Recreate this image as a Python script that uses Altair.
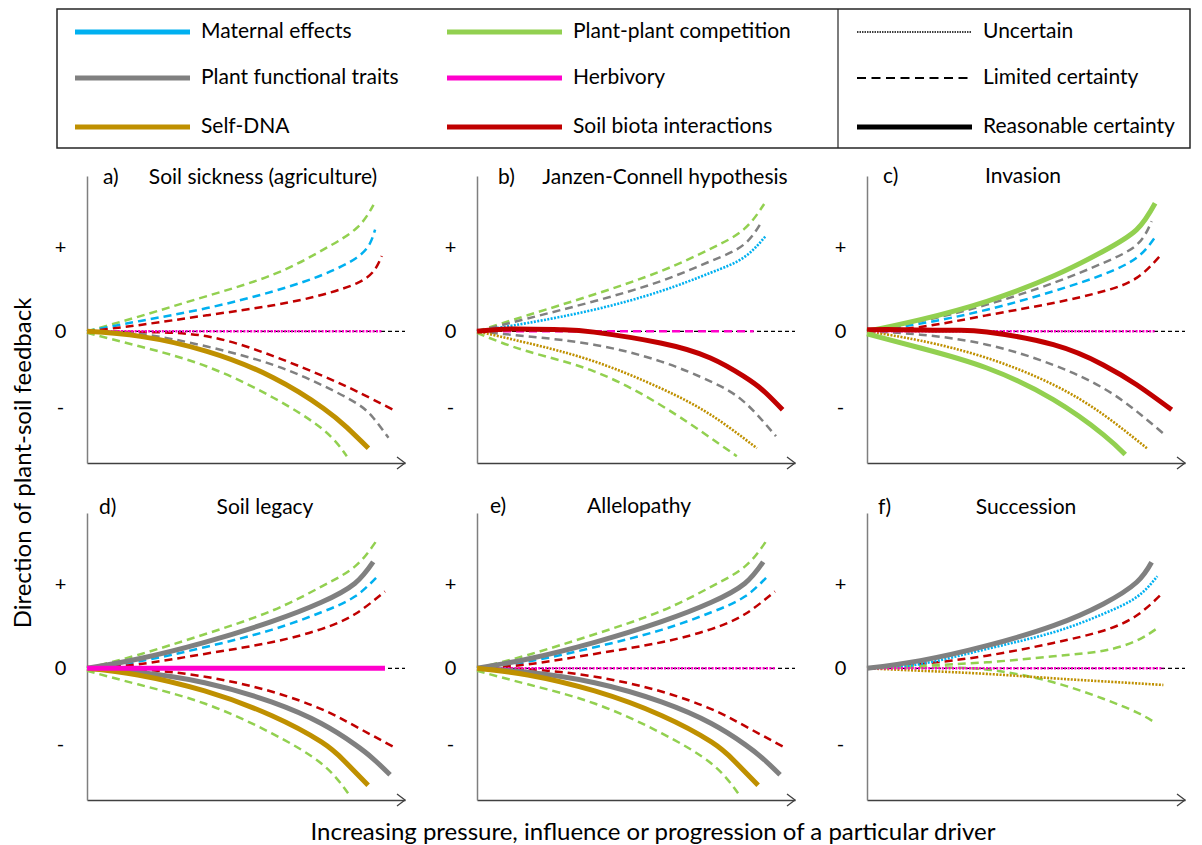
import altair as alt
import pandas as pd

FONT = "Lato"

# ---------------- categories / labels ----------------
DRIVERS = ["Maternal effects", "Plant functional traits", "Self-DNA",
           "Plant-plant competition", "Herbivory", "Soil biota interactions"]
DRIVER_COLORS = ["#00B0F0", "#808080", "#BF9000", "#92D050", "#FF00CC", "#C00000"]
CERTAINTY = ["Uncertain", "Limited certainty", "Reasonable certainty"]

PANEL_LETTERS = ["a)", "b)", "c)", "d)", "e)", "f)"]
PANEL_TITLES = ["Soil sickness (agriculture)", "Janzen-Connell hypothesis", "Invasion",
                "Soil legacy", "Allelopathy", "Succession"]
Y_TICK_VALUES = [-9.5, 0, 10.5]
Y_TICK_TEXT = ["-", "0", "+"]
X_TITLE = "Increasing pressure, influence or progression of a particular driver"
Y_TITLE = "Direction of plant-soil feedback"

# conceptual axis extents
X_DOMAIN = [0, 100]
Y_DOMAIN = [-16.45, 19.4]

# ---------------- curves (x, y) ----------------
# a) Soil sickness
a_comp_up = [(0, 0), (16.8, 1.9), (37.7, 4.4), (58.6, 7.1), (74.3, 10.2), (84.8, 12.9), (90.1, 15.8)]
a_mat_up = [(0, 0), (16.8, 1.3), (37.7, 2.9), (58.6, 5.0), (74.3, 7.1), (84.8, 9.2), (89.0, 11.0), (90.6, 12.7)]
a_soil_up = [(0, 0), (16.8, 0.8), (37.7, 2.0), (58.6, 3.25), (74.3, 4.6), (84.8, 6.0), (90.1, 7.5), (92.7, 9.4)]
a_soil_dn = [(0, 0), (16.8, -0.1), (37.7, -0.63), (58.6, -3.1), (74.3, -5.6), (84.8, -7.5), (96.3, -9.8)]
a_traits_dn = [(0, 0), (16.8, -0.33), (37.7, -1.9), (58.6, -4.2), (74.3, -6.8), (84.8, -9.0), (90.0, -10.8), (94.8, -13.3)]
a_dna_dn = [(0, 0), (16.8, -0.63), (37.7, -2.5), (58.6, -5.8), (74.3, -9.6), (81.7, -12.0), (88.5, -14.6)]
a_comp_dn = [(0, -0.2), (16.8, -1.9), (37.7, -4.4), (58.6, -8.3), (74.3, -12.3), (81.7, -15.6)]
a_herb = [(0, 0), (92.7, 0)]

# b) Janzen-Connell hypothesis
b_comp_up = [(0, 0), (15.9, 2.0), (36.8, 4.6), (57.7, 7.5), (73.4, 10.3), (83.8, 12.7), (90.3, 15.9)]
b_traits_up = [(0, 0), (15.9, 1.6), (36.8, 3.75), (57.7, 6.25), (73.4, 8.75), (83.8, 10.8), (89.6, 13.75)]
b_mat_up = [(0, 0), (15.9, 1.04), (36.8, 2.7), (57.7, 5.0), (73.4, 7.3), (83.8, 9.2), (90.8, 11.9)]
b_soil = [(0, 0), (10.7, 0.3), (26.3, 0.2), (36.8, -0.1), (57.7, -1.46), (73.4, -3.33), (83.8, -5.6), (90.0, -7.4), (96.1, -9.8)]
b_herb = [(0, 0), (87.0, 0)]
b_traits_dn = [(0, 0), (15.9, -0.63), (36.8, -1.67), (57.7, -3.75), (73.4, -6.25), (83.8, -8.75), (94.0, -13.1)]
b_dna_dn = [(0, 0), (15.9, -1.46), (36.8, -3.75), (57.7, -7.1), (73.4, -10.4), (88.0, -14.6)]
b_comp_dn = [(0, -0.2), (15.9, -2.5), (36.8, -5.0), (57.7, -9.2), (73.4, -13.3), (81.7, -15.6)]

# c) Invasion
c_comp_up = [(0, 0), (16.8, 1.46), (37.7, 3.75), (58.6, 6.9), (74.3, 10.0), (84.8, 12.7), (90.6, 16.0)]
c_traits_up = [(0, 0), (16.8, 1.25), (37.7, 3.33), (58.6, 6.04), (74.3, 8.54), (84.8, 10.8), (89.5, 13.75)]
c_mat_up = [(0, 0), (16.8, 0.96), (37.7, 2.7), (58.6, 5.0), (74.3, 7.1), (84.8, 9.2), (90.6, 11.75)]
c_soil_up = [(0, 0), (16.8, 0.54), (37.7, 2.0), (58.6, 3.54), (74.3, 5.0), (84.8, 6.67), (92.7, 9.67)]
c_soil_dn = [(0, 0.2), (11.5, 0.2), (27.2, 0.12), (37.7, -0.08), (58.6, -1.67), (74.3, -4.2), (84.8, -6.67), (95.8, -9.8)]
c_traits_dn = [(0, 0), (16.8, -0.42), (37.7, -1.67), (58.6, -4.2), (74.3, -7.1), (84.8, -10.0), (94.2, -13.1)]
c_dna_dn = [(0, 0), (16.8, -1.17), (37.7, -3.33), (58.6, -6.67), (74.3, -10.4), (88.0, -14.6)]
c_comp_dn = [(0, -0.33), (16.8, -2.08), (37.7, -4.58), (58.6, -8.54), (74.3, -12.9), (81.2, -15.4)]
c_herb = [(0, 0), (90.6, 0)]

# d) Soil legacy  /  e) Allelopathy (same shapes)
d_comp_up = [(0, 0), (16.0, 1.67), (37.0, 4.25), (58.0, 7.17), (73.7, 10.2), (84.2, 12.7), (90.8, 15.8)]
d_traits_up = [(0, 0), (16.0, 1.17), (37.0, 3.25), (58.0, 5.83), (73.7, 8.25), (84.2, 10.6), (90.0, 13.3)]
d_mat_up = [(0, 0), (16.0, 0.83), (37.0, 2.63), (58.0, 4.8), (73.7, 7.0), (84.2, 8.96), (91.6, 11.6)]
d_soil_up = [(0, 0), (16.0, 0.5), (37.0, 1.8), (58.0, 3.25), (73.7, 4.9), (84.2, 6.75), (93.7, 9.6)]
d_soil_dn = [(0, 0), (16.0, -0.12), (37.0, -1.04), (58.0, -2.9), (73.7, -5.1), (84.2, -7.2), (96.8, -9.9)]
d_traits_dn = [(0, 0), (16.0, -0.5), (37.0, -1.8), (58.0, -4.2), (73.7, -6.9), (84.2, -9.5), (90.0, -11.3), (95.3, -13.3)]
d_dna_dn = [(0, 0), (16.0, -0.83), (37.0, -2.83), (58.0, -5.9), (73.7, -9.2), (81.0, -11.6), (88.4, -14.6)]
d_comp_dn = [(0, -0.3), (16.0, -2.0), (37.0, -4.4), (58.0, -8.1), (73.7, -11.9), (82.1, -15.6)]
d_herb = [(0, 0), (93.7, 0)]

# f) Succession
f_traits_up = [(0, 0), (16.8, 0.96), (37.7, 2.83), (58.6, 5.33), (74.3, 8.04), (84.8, 10.75), (89.5, 13.25)]
f_mat_up = [(0, 0), (16.8, 0.54), (37.7, 2.42), (58.6, 4.5), (74.3, 6.8), (84.8, 8.9), (91.3, 11.5)]
f_soil_up = [(0, 0), (16.8, 0.54), (37.7, 1.58), (58.6, 3.17), (74.3, 4.7), (84.8, 6.6), (93.2, 9.5)]
f_comp_up = [(0, 0), (16.8, 0.33), (37.7, 0.75), (58.6, 1.5), (74.3, 2.2), (84.8, 3.46), (91.6, 5.1)]
f_comp_dn = [(0, 0), (27.2, 0.08), (42.9, -0.42), (58.6, -1.75), (74.3, -3.8), (84.8, -5.5), (90.1, -6.67)]
f_dna_dn = [(0, 0), (16.8, -0.3), (37.7, -0.7), (58.6, -1.25), (74.3, -1.63), (93.2, -2.08)]
f_herb = [(0, 0), (93.2, 0)]

U, L, R = CERTAINTY
MAT, TRA, DNA, COM, HER, SOI = DRIVERS

PANEL_CURVES = [
    [(COM, L, a_comp_up), (MAT, L, a_mat_up), (SOI, L, a_soil_up), (SOI, L, a_soil_dn),
     (TRA, L, a_traits_dn), (DNA, R, a_dna_dn), (COM, L, a_comp_dn), (HER, U, a_herb)],
    [(COM, L, b_comp_up), (TRA, L, b_traits_up), (MAT, U, b_mat_up), (HER, L, b_herb),
     (SOI, R, b_soil), (TRA, L, b_traits_dn), (DNA, U, b_dna_dn), (COM, L, b_comp_dn)],
    [(COM, R, c_comp_up), (TRA, L, c_traits_up), (MAT, L, c_mat_up), (SOI, L, c_soil_up),
     (SOI, R, c_soil_dn), (TRA, L, c_traits_dn), (DNA, U, c_dna_dn), (COM, R, c_comp_dn), (HER, U, c_herb)],
    [(COM, L, d_comp_up), (TRA, R, d_traits_up), (MAT, L, d_mat_up), (SOI, L, d_soil_up),
     (SOI, L, d_soil_dn), (TRA, R, d_traits_dn), (DNA, R, d_dna_dn), (COM, L, d_comp_dn), (HER, R, d_herb)],
    [(COM, L, d_comp_up), (TRA, R, d_traits_up), (MAT, L, d_mat_up), (SOI, L, d_soil_up),
     (SOI, L, d_soil_dn), (TRA, R, d_traits_dn), (DNA, R, d_dna_dn), (COM, L, d_comp_dn), (HER, U, d_herb)],
    [(TRA, R, f_traits_up), (MAT, U, f_mat_up), (SOI, L, f_soil_up), (COM, L, f_comp_up),
     (COM, L, f_comp_dn), (DNA, U, f_dna_dn), (HER, U, f_herb)],
]

# ---------------- styles & layout ----------------
COLOR_OF = dict(zip(DRIVERS, DRIVER_COLORS))
LINE_STYLE = {
    L: dict(strokeWidth=2.5, strokeDash=[8, 5]),
    U: dict(strokeWidth=2.6, strokeDash=[2, 1.4]),
    R: dict(strokeWidth=5),
}
DRAW_ORDER = [L, U, R]
INTERPOLATION = "natural"
Y_AXIS_COLOR = "#7F7F7F"
X_AXIS_COLOR = "#404040"
PANEL_W, PANEL_H = 318, 287
COL_SPACING, ROW_SPACING = 72, 50
# (letter x, title centre x, y) relative to each panel's plot area
TITLE_POS = [(16, 176, 2), (21, 188, 2), (16, 156, 1),
             (12, 178, -5), (13, 162, -6), (11, 159, -5)]
TITLE_SIZE = 21
ARROW_PATH = "M -1 -0.75 L 0 0 L -1 0.75"

# legend geometry, in pixels relative to panel a's plot area
LEG_BOX = (-30, 1103, -167, -28)
LEG_DIVIDER_X = 751
LEG_COLS_X = [-12, 360, 770]
LEG_ROWS_Y = [-144, -98, -49]
LEG_LINE_LEN = 115
LEG_TEXT_GAP = 11
LEG_FONT = 21
# global titles (relative to panel a / panel e)
YTITLE_POS = (-63, 287)
XTITLE_POS = (176, 320)
GLOBAL_TITLE_SIZE = 24
LEFT_ANCHOR_X = -78.5   # invisible element fixing the left edge of the drawing
PAD = {"left": 0, "top": 0, "right": 0, "bottom": 0}

label_expr = "datum.value < 0 ? '%s' : (datum.value > 0 ? '%s' : '%s')" % (
    Y_TICK_TEXT[0], Y_TICK_TEXT[2], Y_TICK_TEXT[1])
Y_AXIS = alt.Axis(values=Y_TICK_VALUES, labelExpr=label_expr, ticks=False, tickSize=0,
                  grid=False, title=None, domainColor=Y_AXIS_COLOR, domainWidth=1.5,
                  labelFont=FONT, labelFontSize=20, labelColor="black",
                  labelAlign="center", labelBaseline="middle", labelPadding=27)
X_AXIS = alt.Axis(labels=False, ticks=False, grid=False, title=None,
                  domainColor=X_AXIS_COLOR, domainWidth=1.3)

ONE = pd.DataFrame({"a": [0]})


def text_layer(txt, x, y, size, align="center", angle=0):
    kw = dict(font=FONT, fontSize=size, align=align, baseline="middle", color="black")
    if angle:
        kw["angle"] = angle
    return (alt.Chart(pd.DataFrame({"t": [txt]})).mark_text(**kw)
            .encode(text="t:N", x=alt.value(x), y=alt.value(y)))


def legend_layers():
    x0, x1, y0, y1 = LEG_BOX
    out = [
        alt.Chart(ONE).mark_rect(fillOpacity=0, stroke="#262626", strokeWidth=1.5)
        .encode(x=alt.value(x0), x2=alt.value(x1), y=alt.value(y0), y2=alt.value(y1)),
        alt.Chart(ONE).mark_rule(color="#262626", strokeWidth=1.2)
        .encode(x=alt.value(LEG_DIVIDER_X), y=alt.value(y0), y2=alt.value(y1)),
    ]
    items = []
    for k, (drv, colr) in enumerate(zip(DRIVERS, DRIVER_COLORS)):
        items.append((drv, k // 3, k % 3, dict(color=colr, strokeWidth=5)))
    cert_style = {
        U: dict(color="black", strokeWidth=1.6, strokeDash=[1.5, 1]),
        L: dict(color="black", strokeWidth=2.2, strokeDash=[9, 5.5]),
        R: dict(color="black", strokeWidth=5),
    }
    for r, cert in enumerate(CERTAINTY):
        items.append((cert, 2, r, cert_style[cert]))
    for label, c, r, sty in items:
        lx = LEG_COLS_X[c]
        ly = LEG_ROWS_Y[r]
        out.append(alt.Chart(ONE).mark_rule(**sty)
                   .encode(x=alt.value(lx), x2=alt.value(lx + LEG_LINE_LEN), y=alt.value(ly)))
        out.append(text_layer(label, lx + LEG_LINE_LEN + LEG_TEXT_GAP, ly, LEG_FONT, align="left"))
    return out


def make_panel(i):
    rows = []
    for cid, (drv, cert, pts) in enumerate(PANEL_CURVES[i]):
        for x, y in pts:
            rows.append({"cid": cid, "driver": drv, "cert": cert, "x": x, "y": y,
                         "col": COLOR_OF[drv]})
    df = pd.DataFrame(rows)
    xsc = alt.Scale(domain=X_DOMAIN, nice=False, zero=False)
    ysc = alt.Scale(domain=Y_DOMAIN, nice=False, zero=False)
    xenc = alt.X("x:Q", scale=xsc, axis=X_AXIS)
    yenc = alt.Y("y:Q", scale=ysc, axis=Y_AXIS)

    zero_df = pd.DataFrame({"x": [X_DOMAIN[0]], "x2": [X_DOMAIN[1]], "y": [0]})
    layers = [alt.Chart(zero_df).mark_rule(color="black", strokeWidth=1.2, strokeDash=[4, 3])
              .encode(x=xenc, x2="x2:Q", y=yenc)]
    for cert in DRAW_ORDER:
        sub = df[df["cert"] == cert]
        if len(sub) == 0:
            continue
        layers.append(
            alt.Chart(sub).mark_line(interpolate=INTERPOLATION, strokeCap="butt", **LINE_STYLE[cert])
            .encode(x=xenc, y=yenc, color=alt.Color("col:N", scale=None), detail="cid:N")
        )
    arrow_df = pd.DataFrame({"x": [X_DOMAIN[1]], "y": [Y_DOMAIN[0]]})
    layers.append(
        alt.Chart(arrow_df).mark_point(shape=ARROW_PATH, size=256, filled=False, color=X_AXIS_COLOR,
                                       strokeWidth=1.3, opacity=1)
        .encode(x=xenc, y=yenc)
    )
    lx, tx, ty = TITLE_POS[i]
    layers.append(text_layer(PANEL_LETTERS[i], lx, ty, TITLE_SIZE, align="left"))
    layers.append(text_layer(PANEL_TITLES[i], tx, ty, TITLE_SIZE))
    if i == 0:
        layers += legend_layers()
        layers.append(text_layer(Y_TITLE, YTITLE_POS[0], YTITLE_POS[1], GLOBAL_TITLE_SIZE, angle=270))
        layers.append(alt.Chart(ONE).mark_rule(color="white", opacity=0, strokeWidth=1)
                      .encode(x=alt.value(LEFT_ANCHOR_X), y=alt.value(200), y2=alt.value(220)))
    if i == 4:
        layers.append(text_layer(X_TITLE, XTITLE_POS[0], XTITLE_POS[1], GLOBAL_TITLE_SIZE))
    return alt.layer(*layers).properties(width=PANEL_W, height=PANEL_H)


panels = [make_panel(i) for i in range(6)]
chart = (alt.concat(*panels, columns=3, spacing={"row": ROW_SPACING, "column": COL_SPACING},
                    bounds="flush")
         .properties(padding=PAD)
         .configure_view(stroke=None))

chart.save("out.html", embed_options={"renderer": "svg", "actions": False})
